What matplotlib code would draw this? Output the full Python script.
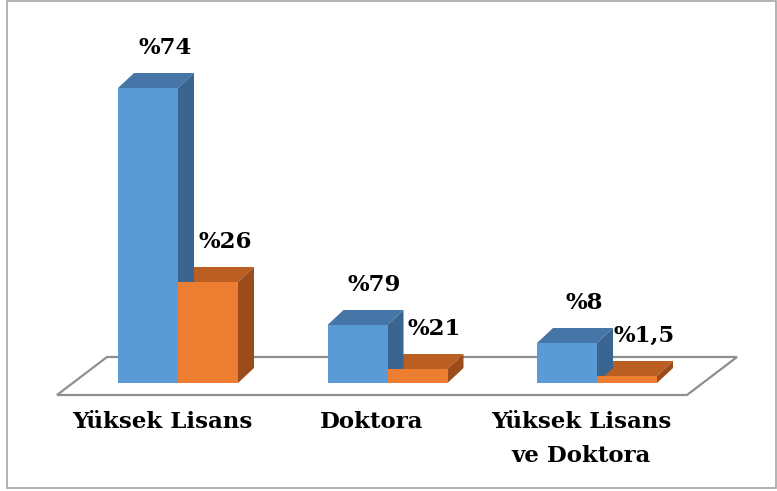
import matplotlib
matplotlib.use("Agg")
import matplotlib.pyplot as plt
from matplotlib.patches import Polygon, Rectangle

# ---- data ----
categories = ["Yüksek Lisans", "Doktora", "Yüksek Lisans\nve Doktora"]
series_a_values = [295, 58, 40]     # blue bars (relative heights)
series_b_values = [101, 14, 7]      # orange bars (relative heights)
series_a_labels = ["%74", "%79", "%8"]
series_b_labels = ["%26", "%21", "%1,5"]

# ---- style ----
W, H, DPI = 777, 491, 100
PX_PER_UNIT = 209.5           # pixels per category step
BASE_PX = 383                 # pixel row of the bar base
FIRST_PX = 178                # pixel column of first group centre
bar_w = 60 / PX_PER_UNIT
dx = 16 / PX_PER_UNIT         # 3D depth offsets
dy = 15

colors_a = {"front": "#5B9BD5", "top": "#4676A8", "side": "#3A6590"}
colors_b = {"front": "#ED7D31", "top": "#BB5E22", "side": "#9C4C1A"}
font = ["DejaVu Serif"]

fig = plt.figure(figsize=(W / DPI, H / DPI), dpi=DPI)
ax = fig.add_axes([0, 0, 1, 1])
ax.set_xlim(-FIRST_PX / PX_PER_UNIT, (W - FIRST_PX) / PX_PER_UNIT)
ax.set_ylim(BASE_PX - H, BASE_PX)
ax.axis("off")


def px_x(p):
    return (p - FIRST_PX) / PX_PER_UNIT


def px_y(p):
    return BASE_PX - p


# floor parallelogram
floor = Polygon([(px_x(57), px_y(395)), (px_x(687), px_y(395)),
                 (px_x(737), px_y(357)), (px_x(107), px_y(357))],
                closed=True, facecolor="white", edgecolor="#8f8f8f",
                lw=1.6, zorder=1)
ax.add_patch(floor)

x = list(range(len(categories)))


def draw_series(xs, vals, labels, cols):
    bars = ax.bar(xs, vals, width=bar_w, bottom=0, color=cols["front"],
                  edgecolor="none", zorder=3, align="center")
    for b, lab in zip(bars, labels):
        x0 = b.get_x()
        x1 = x0 + b.get_width()
        h = b.get_height()
        top = Polygon([(x0, h), (x1, h), (x1 + dx, h + dy), (x0 + dx, h + dy)],
                      closed=True, facecolor=cols["top"], edgecolor="none",
                      zorder=2.9)
        side = Polygon([(x1, 0), (x1 + dx, dy), (x1 + dx, h + dy), (x1, h)],
                       closed=True, facecolor=cols["side"], edgecolor="none",
                       zorder=2.9)
        ax.add_patch(top)
        ax.add_patch(side)
        ax.text((x0 + x1) / 2 + 17 / PX_PER_UNIT, h + 40, lab,
                ha="center", va="center", fontsize=16.5, fontweight="bold",
                family=font, zorder=5)
    return bars


draw_series([xi + bar_w / 2 for xi in x], series_b_values, series_b_labels, colors_b)
draw_series([xi - bar_w / 2 for xi in x], series_a_values, series_a_labels, colors_a)

# category labels
for xi, cat in zip(x, categories):
    ax.text(xi - dx, px_y(411), cat, ha="center", va="top", fontsize=16.5,
            fontweight="bold", family=font, linespacing=1.7)

# outer border
fig.patches.append(Rectangle((7 / W, 1 - 488 / H), (776 - 7) / W, (488 - 1) / H,
                             transform=fig.transFigure, fill=False,
                             edgecolor="#a6a6a6", lw=1.2))

fig.savefig("out.png", dpi=DPI)
